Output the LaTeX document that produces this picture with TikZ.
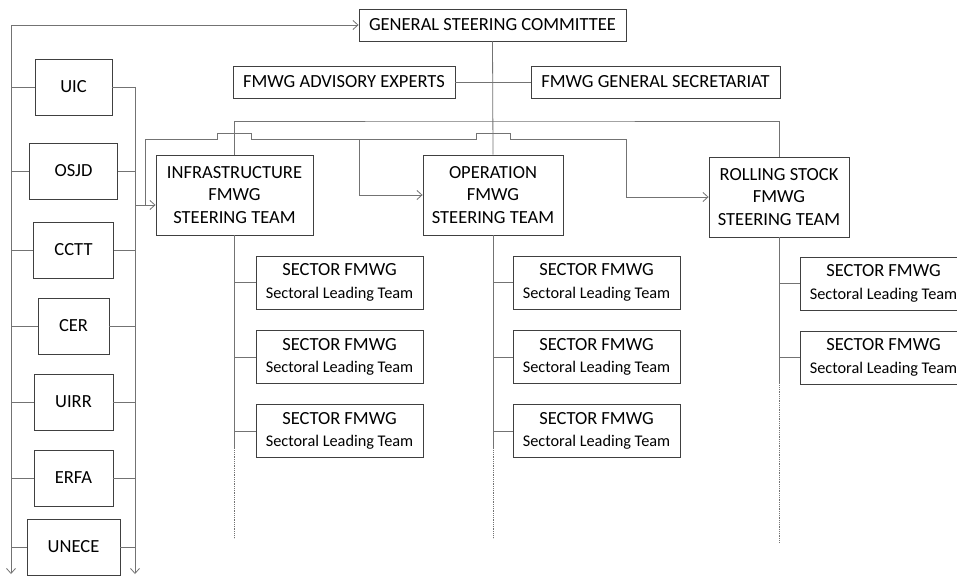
\documentclass[tikz,border=0pt]{standalone}
\usepackage{fontspec}
\setmainfont{Carlito}
\usetikzlibrary{arrows.meta}
\newcommand{\slt}{SECTOR FMWG\\{\fontsize{16.3pt}{20pt}\selectfont Sectoral Leading Team}}

\begin{document}
\begin{tikzpicture}[x=1pt,y=-1pt,
    >={Straight Barb[length=5pt,width=9pt]},
    box/.style={draw=black!75,line width=0.9pt,fill=white,align=center,inner sep=0pt,
        font=\fontsize{18.5pt}{22.5pt}\selectfont},
    org/.style={box,minimum height=56pt},
    team/.style={box,minimum height=80pt},
    sector/.style={box,minimum width=167pt,minimum height=53pt},
    link/.style={draw=black!55,line width=0.8pt}]

    % Page
    \fill[white] (0,0) rectangle (957,575);
    \useasboundingbox (0,0) rectangle (957,575);
    \clip (0,0) rectangle (957,575);

    % Top level
    \node[box,minimum width=267pt,minimum height=32pt] (gsc) at (492.5,25) {GENERAL STEERING COMMITTEE};
    \node[box,minimum width=222pt,minimum height=32pt] (adv) at (344,82) {FMWG ADVISORY EXPERTS};
    \node[box,minimum width=249pt,minimum height=32pt] (sec) at (655.5,82) {FMWG GENERAL SECRETARIAT};

    % Steering teams
    \node[team,minimum width=157pt] (infra) at (234.5,195) {INFRASTRUCTURE\\FMWG\\STEERING TEAM};
    \node[team,minimum width=140pt] (oper) at (493,195) {OPERATION\\FMWG\\STEERING TEAM};
    \node[team,minimum width=140pt] (roll) at (779,197) {ROLLING STOCK\\FMWG\\STEERING TEAM};

    % Sector teams
    \foreach \t/\x in {infra/339.5,oper/596.5}
        \foreach \n/\y in {1/282.5,2/357,3/431}
            \node[sector] (\t\n) at (\x,\y) {\slt};
    \foreach \n/\y in {1/283.5,2/357.5}
        \node[sector] (roll\n) at (883.5,\y) {\slt};

    % Organisations
    \foreach \o/\w/\y in {UIC/77/87,OSJD/88/171,CCTT/80/250,CER/71/326,UIRR/79/402,ERFA/79/478,UNECE/93/547}
        \node[org,minimum width=\w pt] (\o) at (73.5,\y) {\o};

    % Buses beside the organisations
    \coordinate (ltop) at (11,25);
    \coordinate (lbot) at (11,574);
    \coordinate (rtop) at (135,87);
    \coordinate (rbot) at (135,574);
    \draw[link,<->] (lbot) -- (ltop) -- (gsc.west);
    \draw[link,->] (rtop) -- (rbot);
    \foreach \o in {UIC,OSJD,CCTT,CER,UIRR,ERFA,UNECE} {
        \draw[link] (\o.west) -- (ltop |- \o.west);
        \draw[link] (\o.east) -- (rtop |- \o.east);
    }

    % Committee links
    \draw[link] (gsc.south) -- (oper.north);
    \draw[link] (adv.east) -- (sec.west);
    \coordinate (top) at (493,121);
    \draw[link] (infra.north) |- (top) -| (roll.north);

    % Feed line to the teams (with hops)
    \coordinate (feed) at (145,205);
    \coordinate (hop) at (145,139);
    \coordinate (opin) at (359,139);
    \coordinate (rollin) at (626,139);
    \draw[link,->] (rtop |- feed) -- (infra.west |- feed);
    \draw[link] (feed) -- (hop) -- ([xshift=-17pt]infra.north |- hop) -- ++(0,-6) -- ++(34,0) -- ++(0,6) -- (opin);
    \draw[link,->] (opin) |- (oper.west);
    \draw[link] (opin) -- ([xshift=-17pt]oper.north |- hop) -- ++(0,-6) -- ++(34,0) -- ++(0,6) -- (rollin);
    \draw[link,->] (rollin) |- (roll.west);

    % Trunks to sector teams
    \foreach \t in {infra,oper} {
        \draw[link] (\t.south) -- ++(0,213);
        \draw[link,densely dotted,line width=0.6pt] ([yshift=-213pt]\t.south) -- ++(0,90);
        \foreach \n in {1,2,3}
            \draw[link] (\t\n.west) -- (\t\n.west -| \t.south);
    }
    \draw[link] (roll.south) -- ++(0,146);
    \draw[link,densely dotted,line width=0.6pt] ([yshift=-146pt]roll.south) -- ++(0,160);
    \foreach \n in {1,2}
        \draw[link] (roll\n.west) -- (roll\n.west -| roll.south);
\end{tikzpicture}
\end{document}
